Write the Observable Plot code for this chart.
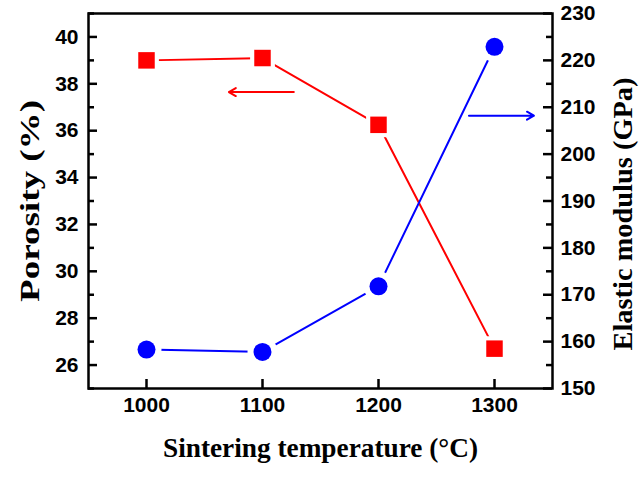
<!DOCTYPE html>
<html>
<head>
<meta charset="utf-8">
<script src="https://cdn.jsdelivr.net/npm/d3@7"></script>
<script src="https://cdn.jsdelivr.net/npm/@observablehq/plot@0.6"></script>
<style>
  html, body { margin: 0; padding: 0; background: white; }
</style>
</head>
<body>
<div id="chart"></div>
<script>
// Data
const temperatures = [1000, 1100, 1200, 1300];
const porosity = [39.0, 39.1, 36.25, 26.7];
const modulus = [158.3, 157.8, 171.8, 222.9];

const xTicks = [1000, 1100, 1200, 1300];
const porosityTicks = [26, 28, 30, 32, 34, 36, 38, 40];
const porosityMinor = [25, 27, 29, 31, 33, 35, 37, 39, 41];
const modulusTicks = [150, 160, 170, 180, 190, 200, 210, 220, 230];
const modulusMinor = [155, 165, 175, 185, 195, 205, 215, 225];

// indicator arrows (x from -> to, value on its own axis)
const porosityArrowX = [1127, 1071];
const porosityArrowY = [37.65];
const modulusArrowX = [1278, 1334];
const modulusArrowY = [208.2];

// Axis domains
const xDomain = [950, 1350];
const leftDomain = [25, 41];
const rightDomain = [150, 230];
const toLeft = e => leftDomain[0] + (e - rightDomain[0]) * (leftDomain[1] - leftDomain[0]) / (rightDomain[1] - rightDomain[0]);
const fromLeft = p => rightDomain[0] + (p - leftDomain[0]) * (rightDomain[1] - rightDomain[0]) / (leftDomain[1] - leftDomain[0]);

const rows = temperatures.map((t, i) => ({t, p: porosity[i], e: modulus[i]}));
const RED = "#ff0000", BLUE = "#0000ff";
const tickFont = {fontSize: 21, fontWeight: "bold", fontFamily: "Liberation Sans, Arial, sans-serif", fill: "black"};
const titleFont = {fontSize: 27, fontWeight: "bold", fontFamily: "Liberation Serif, Times New Roman, serif", fill: "black", textAnchor: "middle"};

const W = 643, H = 477, mL = 88, mR = 91, mT = 13, mB = 89;
const fw = W - mL - mR, fh = H - mT - mB;
// data units per pixel, for tick lengths in pixels
const kx = (xDomain[1] - xDomain[0]) / fw;
const ky = (leftDomain[1] - leftDomain[0]) / fh;
const tickStyle = {stroke: "black", strokeWidth: 2.5};

const chart = Plot.plot({
  width: W,
  height: H,
  marginLeft: mL,
  marginRight: mR,
  marginTop: mT,
  marginBottom: mB,
  style: {background: "white"},
  x: {domain: xDomain},
  y: {domain: leftDomain},
  marks: [
    Plot.line(rows, {x: "t", y: "p", stroke: RED, strokeWidth: 2}),
    Plot.line(rows, {x: "t", y: d => toLeft(d.e), stroke: BLUE, strokeWidth: 2}),
    Plot.dot(rows, {x: "t", y: "p", symbol: "square", r: 14, fill: "white"}),
    Plot.dot(rows, {x: "t", y: d => toLeft(d.e), r: 15, fill: "white"}),
    Plot.dot(rows, {x: "t", y: "p", symbol: "square", r: 9.3, fill: RED}),
    Plot.dot(rows, {x: "t", y: d => toLeft(d.e), r: 9, fill: BLUE}),
    Plot.arrow([0], {x1: () => porosityArrowX[0], x2: () => porosityArrowX[1], y1: () => porosityArrowY[0], y2: () => porosityArrowY[0], stroke: RED, strokeWidth: 2, headLength: 6}),
    Plot.arrow([0], {x1: () => modulusArrowX[0], x2: () => modulusArrowX[1], y1: () => toLeft(modulusArrowY[0]), y2: () => toLeft(modulusArrowY[0]), stroke: BLUE, strokeWidth: 2, headLength: 6}),
    // tick labels
    Plot.axisX({ticks: xTicks, tickSize: 0, tickPadding: 9, tickFormat: d => String(d), label: null, ...tickFont}),
    Plot.axisY({anchor: "left", ticks: porosityTicks, tickSize: 0, tickPadding: 10, tickFormat: d => String(d), label: null, ...tickFont}),
    Plot.axisY({anchor: "right", ticks: modulusTicks.map(toLeft), tickFormat: d => String(Math.round(fromLeft(d))), tickSize: 0, tickPadding: 8, label: null, ...tickFont}),
    Plot.frame({stroke: "black", strokeWidth: 2.5}),
    // inward tick marks
    Plot.ruleX(xTicks, {x: d => d, y1: leftDomain[0], y2: leftDomain[0] + 9 * ky, ...tickStyle}),
    Plot.ruleY(porosityTicks, {y: d => d, x1: xDomain[0], x2: xDomain[0] + 9 * kx, ...tickStyle}),
    Plot.ruleY(porosityMinor, {y: d => d, x1: xDomain[0], x2: xDomain[0] + 6 * kx, ...tickStyle}),
    Plot.ruleY(modulusTicks, {y: d => toLeft(d), x1: xDomain[1] - 9 * kx, x2: xDomain[1], ...tickStyle}),
    Plot.ruleY(modulusMinor, {y: d => toLeft(d), x1: xDomain[1] - 6 * kx, x2: xDomain[1], ...tickStyle}),
    // axis titles
    Plot.text(["Sintering temperature (°C)"], {frameAnchor: "bottom", dy: 68, ...titleFont, className: "title-x"}),
    Plot.text(["Porosity (%)"], {frameAnchor: "left", dx: -58, rotate: -90, ...titleFont, className: "title-l"}),
    Plot.text(["Elastic modulus (GPa)"], {frameAnchor: "right", dx: 71, dy: 13, rotate: -90, ...titleFont, className: "title-r"})
  ]
});
// stretch axis titles to the lengths seen in the reference
const lens = {"title-x": 315, "title-l": 202, "title-r": 273};
for (const [cls, len] of Object.entries(lens)) {
  chart.querySelectorAll(`g.${cls} text`).forEach(t => {
    t.setAttribute("textLength", len);
    t.setAttribute("lengthAdjust", "spacingAndGlyphs");
  });
}
document.getElementById("chart").appendChild(chart);
</script>
</body>
</html>
